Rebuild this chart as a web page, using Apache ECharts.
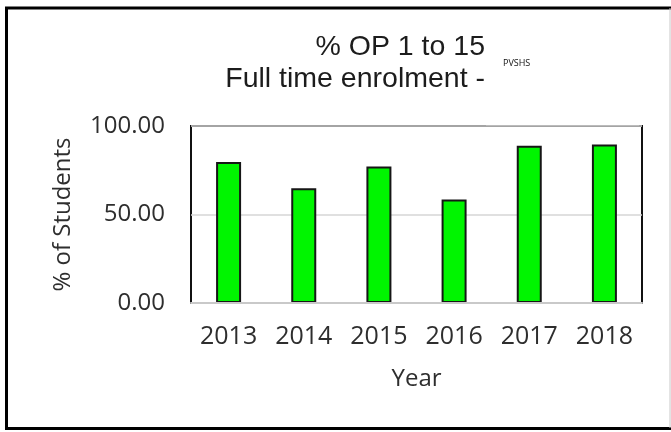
<!DOCTYPE html>
<html>
<head>
<meta charset="utf-8">
<script src="https://cdn.jsdelivr.net/npm/echarts@6/dist/echarts.min.js"></script>
<style>
  html, body { margin: 0; padding: 0; background: #fff; }
  #chart { width: 671px; height: 432px; }
</style>
</head>
<body>
<div id="chart"></div>
<script>
// Share of full-time students with OP 1 to 15, by year
const years = ['2013', '2014', '2015', '2016', '2017', '2018'];
const percentOP1to15 = [79.7, 64.9, 77.1, 58.5, 88.8, 89.6];
const yTicks = { min: 0, max: 100, interval: 50 };
const titleLines = ['% OP 1 to 15', 'Full time enrolment -'];
const schoolCode = 'PVSHS';

const chart = echarts.init(document.getElementById('chart'), null, { renderer: 'canvas' });

const labelFont = '"Open Sans", "Noto Sans", sans-serif';
const titleFont = '28.5px "Liberation Sans", Arial, sans-serif';

chart.setOption({
  animation: false,
  backgroundColor: '#ffffff',
  grid: {
    left: 191,
    right: 29,
    top: 126,
    bottom: 129,
    show: true,
    borderColor: '#111111',
    borderWidth: 2,
    backgroundColor: 'transparent'
  },
  xAxis: {
    type: 'category',
    data: years,
    name: 'Year',
    nameLocation: 'middle',
    nameGap: 64,
    nameTextStyle: { fontFamily: labelFont, fontSize: 24, color: '#2e2e2e' },
    axisLine: { show: true, lineStyle: { color: '#c9c9c9', width: 2 } },
    axisTick: { show: false },
    axisLabel: { fontFamily: labelFont, fontSize: 25, color: '#2e2e2e', margin: 21 },
    z: 5
  },
  yAxis: {
    type: 'value',
    min: yTicks.min,
    max: yTicks.max,
    interval: yTicks.interval,
    name: '% of Students',
    nameLocation: 'middle',
    nameGap: 116,
    nameTextStyle: { fontFamily: labelFont, fontSize: 24, color: '#2e2e2e' },
    axisLine: { show: false },
    axisTick: { show: false },
    axisLabel: {
      fontFamily: labelFont,
      fontSize: 24,
      color: '#2e2e2e',
      margin: 26,
      formatter: v => v.toFixed(2)
    },
    splitLine: { show: true, lineStyle: { color: '#d6d6d6', width: 1.5 } }
  },
  series: [{
    type: 'bar',
    data: percentOP1to15,
    barWidth: 25,
    itemStyle: {
      color: '#00f500',
      borderColor: '#161616',
      borderWidth: 2
    }
  }],
  graphic: [
    // two-line heading, right-aligned
    {
      type: 'text',
      x: 485,
      y: 47,
      style: {
        text: titleLines[0],
        font: titleFont,
        fill: '#1c1c1c',
        textAlign: 'right',
        textVerticalAlign: 'middle'
      }
    },
    {
      type: 'text',
      x: 485,
      y: 79,
      style: {
        text: titleLines[1],
        font: titleFont,
        fill: '#1c1c1c',
        textAlign: 'right',
        textVerticalAlign: 'middle'
      }
    },
    // small school code beside the heading
    {
      type: 'text',
      x: 503,
      y: 63,
      style: {
        text: schoolCode,
        font: '9px "Open Sans", sans-serif',
        fill: '#111',
        textVerticalAlign: 'middle'
      }
    },
    // lighter stretch of the plot's top edge
    {
      type: 'rect',
      shape: { x: 486, y: 124, width: 153, height: 1.2 },
      style: { fill: '#ffffff' },
      z: 100
    },
    // outer frame
    {
      type: 'line',
      shape: { x1: 6.5, y1: 7.5, x2: 6.5, y2: 429 },
      style: { stroke: '#000', lineWidth: 3 },
      z: 100
    },
    {
      type: 'line',
      shape: { x1: 5, y1: 8, x2: 671, y2: 8 },
      style: { stroke: '#000', lineWidth: 3 },
      z: 100
    },
    {
      type: 'line',
      shape: { x1: 5, y1: 428.5, x2: 671, y2: 428.5 },
      style: { stroke: '#000', lineWidth: 3 },
      z: 100
    },
    {
      type: 'line',
      shape: { x1: 670, y1: 8, x2: 670, y2: 428 },
      style: { stroke: '#c8c8c8', lineWidth: 1 },
      z: 100
    }
  ]
});
</script>
</body>
</html>
